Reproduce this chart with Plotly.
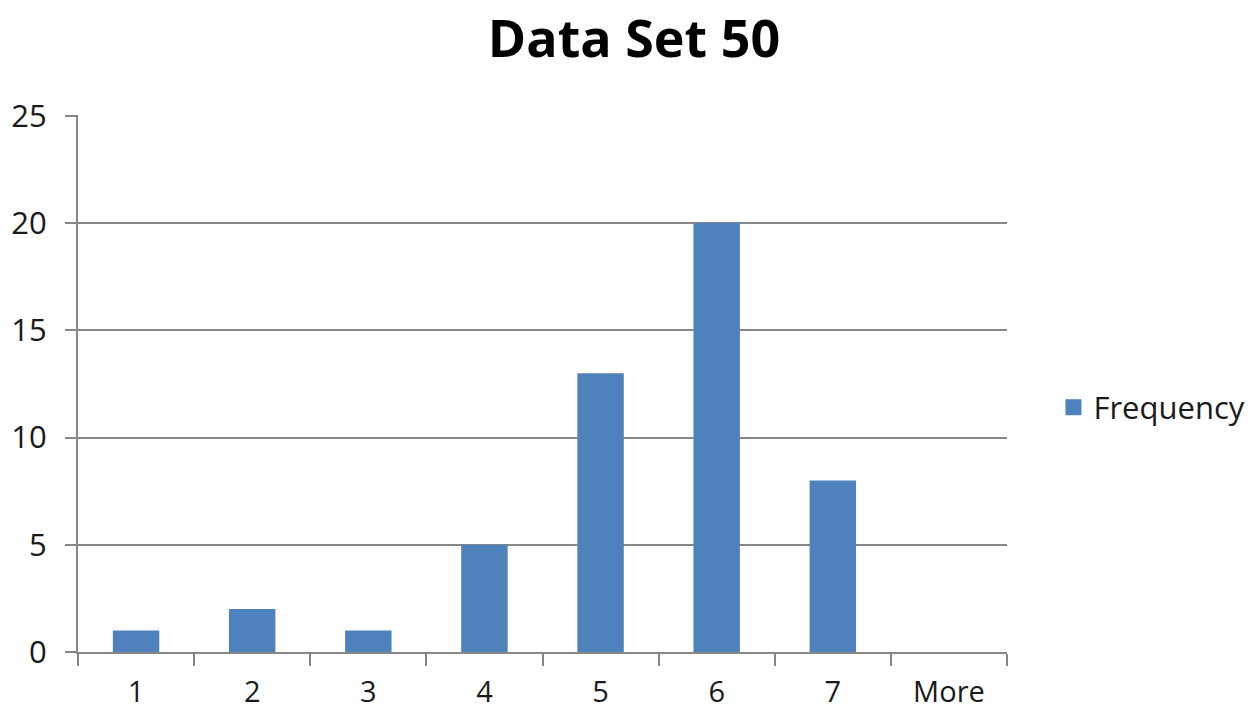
import plotly.graph_objects as go

categories = ["1", "2", "3", "4", "5", "6", "7", "More"]
frequency = [1, 2, 1, 5, 13, 20, 8, 0]
y_ticks = [0, 5, 10, 15, 20, 25]

FONT = "Open Sans"
GRID = "#878787"
BAR = "#4F81BD"
TXT = "#1a1a1a"

fig = go.Figure()
fig.add_trace(go.Bar(
    x=categories, y=frequency, name="Frequency", showlegend=False,
    marker=dict(color=BAR, line=dict(width=0)),
))
# legend entry with a larger square symbol
fig.add_trace(go.Scatter(
    x=[None], y=[None], mode="markers", name="Frequency",
    marker=dict(symbol="square", size=18, color=BAR),
))

fig.update_layout(
    width=1252, height=707,
    margin=dict(l=70, r=253, t=107, b=63, autoexpand=False),
    paper_bgcolor="white", plot_bgcolor="white",
    bargap=0.6,
    title=dict(text="<b>Data Set 50</b>", x=0.5, xanchor="center", xref="container",
               y=0.957, yanchor="middle", yref="container",
               font=dict(family=FONT, size=52, color="black")),
    font=dict(family=FONT, size=31, color=TXT),
    showlegend=True,
    legend=dict(x=1.05, xanchor="left", y=0.455, yanchor="middle",
                font=dict(family=FONT, size=31, color=TXT),
                itemwidth=30),
    xaxis=dict(type="category", showline=True, linecolor=GRID, linewidth=2,
               ticks="outside", tickson="boundaries", ticklen=12, tickwidth=2,
               tickcolor=GRID, showgrid=False,
               tickfont=dict(family=FONT, size=29, color=TXT),
               ticklabelstandoff=13),
    yaxis=dict(range=[0, 25.04], tickvals=y_ticks, showline=True, linecolor=GRID,
               linewidth=2, ticks="outside", ticklen=11, tickwidth=2,
               tickcolor=GRID, showgrid=True, gridcolor=GRID, gridwidth=2,
               zeroline=False,
               tickfont=dict(family=FONT, size=31, color=TXT),
               ticklabelstandoff=12),
)

fig.write_html("out.html")
